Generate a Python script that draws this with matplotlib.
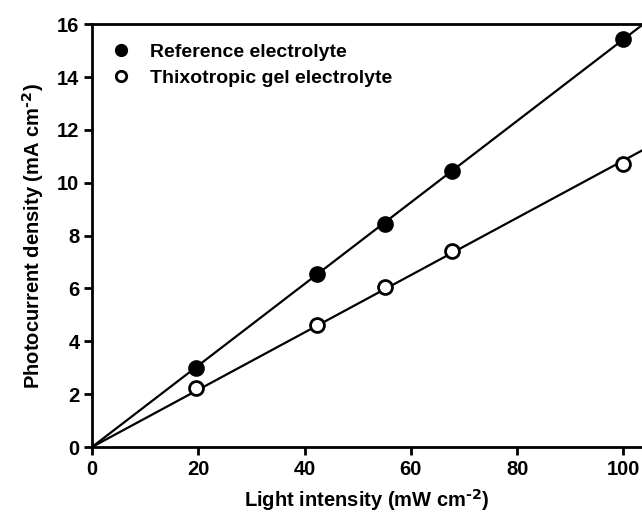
import matplotlib.pyplot as plt
import numpy as np

plt.rcParams['font.family'] = ['Liberation Sans', 'DejaVu Sans']
plt.rcParams['font.weight'] = 'bold'
plt.rcParams['mathtext.default'] = 'bf'

light = [19.6, 42.3, 55.2, 67.7, 100.0]
ref_current = [3.0, 6.55, 8.45, 10.45, 15.45]
gel_current = [2.25, 4.6, 6.05, 7.42, 10.72]

fig = plt.figure(figsize=(6.42, 5.15), dpi=100)
ax = fig.add_axes([0.1433, 0.132, 0.8567, 0.821])

xmax = 103.5
xx = np.array([0, xmax])
x = np.array(light)
for y, face, lab in [(ref_current, 'black', 'Reference electrolyte'),
                     (gel_current, 'white', 'Thixotropic gel electrolyte')]:
    # linear fit through the origin
    slope = np.sum(x * np.array(y)) / np.sum(x * x)
    ax.plot(xx, slope * xx, color='black', lw=1.6)
    ax.plot(light, y, 'o', ms=10, mfc=face, mec='black', mew=2, ls='none', label=lab)

ax.set_xlim(0, xmax)
ax.set_ylim(0, 16)
ax.set_xticks([0, 20, 40, 60, 80, 100])
ax.set_yticks(range(0, 17, 2))
ax.spines['right'].set_visible(False)
for s in ['left', 'bottom', 'top']:
    ax.spines[s].set_linewidth(2)
ax.tick_params(direction='out', length=6, width=2, labelsize=14.5, pad=3)
ax.set_xlabel('Light intensity (mW cm$^{\\text{-2}}$)', fontsize=14.5, fontweight='bold', labelpad=6)
ax.set_ylabel('Photocurrent density (mA cm$^{\\text{-2}}$)', fontsize=14.5, fontweight='bold', labelpad=8)

ax.legend(loc='upper left', frameon=False, handlelength=1.0, handletextpad=1.0, markerscale=0.75,
          borderaxespad=0.6, labelspacing=0.4, prop={'weight': 'bold', 'size': 14})

plt.savefig('out.png', dpi=100)
